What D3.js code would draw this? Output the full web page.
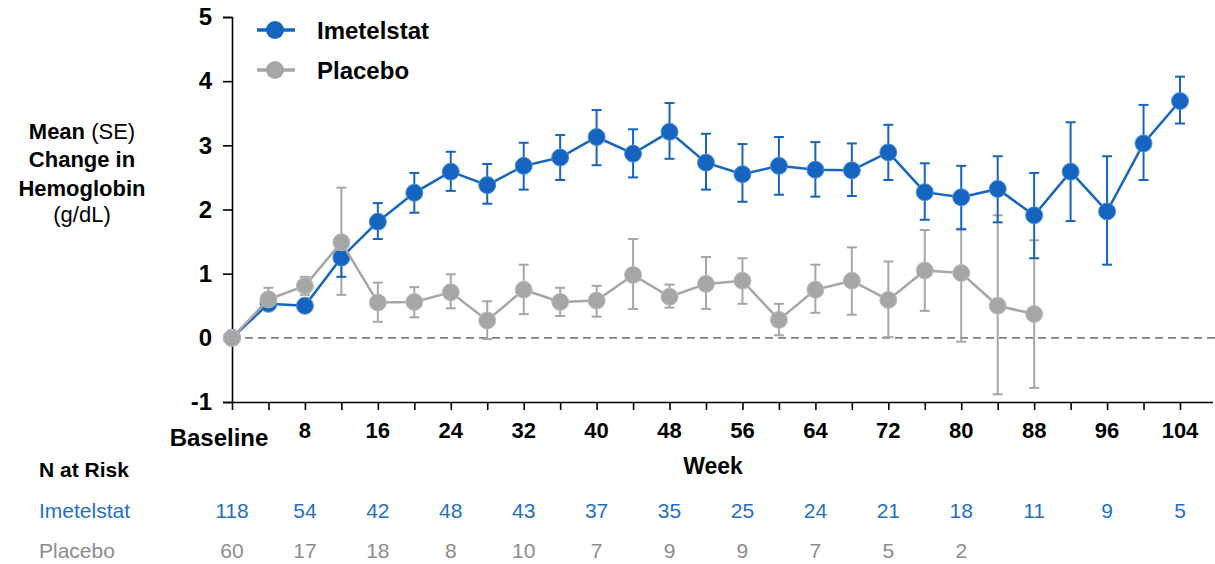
<!DOCTYPE html>
<html>
<head>
<meta charset="utf-8">
<script src="https://cdn.jsdelivr.net/npm/d3@7"></script>
<style>
  body { margin: 0; background: #fff; }
  svg { display: block; font-family: "Liberation Sans", Arial, sans-serif; }
</style>
</head>
<body>
<div id="chart"></div>
<script>
// weeks sampled every 4 weeks
const WEEKS_IME = [0, 4, 8, 12, 16, 20, 24, 28, 32, 36, 40, 44, 48, 52, 56, 60, 64, 68, 72, 76, 80, 84, 88, 92, 96, 100, 104];
const IME_MEAN = [0, 0.53, 0.50, 1.25, 1.81, 2.26, 2.59, 2.38, 2.68, 2.81, 3.13, 2.87, 3.21, 2.73, 2.55, 2.68, 2.62, 2.61, 2.89, 2.27, 2.19, 2.32, 1.91, 2.59, 1.97, 3.03, 3.69];
const IME_HI   = [0, 0.62, 0.58, 1.55, 2.10, 2.57, 2.90, 2.71, 3.04, 3.16, 3.55, 3.25, 3.66, 3.18, 3.02, 3.13, 3.05, 3.03, 3.32, 2.72, 2.68, 2.83, 2.57, 3.36, 2.83, 3.63, 4.07];
const IME_LO   = [0, 0.45, 0.42, 0.95, 1.54, 1.95, 2.29, 2.09, 2.31, 2.46, 2.69, 2.50, 2.79, 2.31, 2.12, 2.23, 2.20, 2.21, 2.46, 1.84, 1.69, 1.80, 1.24, 1.82, 1.14, 2.46, 3.34];

const WEEKS_PBO = [0, 4, 8, 12, 16, 20, 24, 28, 32, 36, 40, 44, 48, 52, 56, 60, 64, 68, 72, 76, 80, 84, 88];
const PBO_MEAN = [0, 0.60, 0.81, 1.49, 0.55, 0.56, 0.71, 0.27, 0.75, 0.56, 0.58, 0.98, 0.64, 0.84, 0.89, 0.28, 0.75, 0.89, 0.59, 1.05, 1.01, 0.50, 0.37];
const PBO_HI   = [0, 0.78, 0.95, 2.34, 0.86, 0.79, 0.99, 0.57, 1.14, 0.78, 0.81, 1.54, 0.83, 1.26, 1.24, 0.53, 1.14, 1.41, 1.19, 1.68, 1.70, 1.91, 1.52];
const PBO_LO   = [0, 0.45, 0.67, 0.67, 0.25, 0.32, 0.46, -0.02, 0.37, 0.34, 0.33, 0.45, 0.47, 0.45, 0.53, 0.04, 0.39, 0.36, 0.01, 0.42, -0.06, -0.88, -0.78];

const X_TICKS = [0, 8, 16, 24, 32, 40, 48, 56, 64, 72, 80, 88, 96, 104];
const Y_TICKS = [-1, 0, 1, 2, 3, 4, 5];
const RISK_IME = [118, 54, 42, 48, 43, 37, 35, 25, 24, 21, 18, 11, 9, 5];
const RISK_PBO = [60, 17, 18, 8, 10, 7, 9, 9, 7, 5, 2];

const BLUE = '#1565C0';
const GRAY = '#A6A6A6';
const TXT_BLUE = '#1F6FC5';
const TXT_GRAY = '#8C8C8C';

const W = 1215, H = 564;
const svg = d3.select('#chart').append('svg').attr('width', W).attr('height', H);

const x = d3.scaleLinear().domain([0, 104]).range([232, 1180]);
const y = d3.scaleLinear().domain([-1, 5]).range([402, 17]);

// zero reference line
svg.append('line')
  .attr('x1', x(0)).attr('x2', 1215).attr('y1', y(0)).attr('y2', y(0))
  .attr('stroke', '#808080').attr('stroke-width', 1.6).attr('stroke-dasharray', '8 5');

// axes
const yAxis = svg.append('g').attr('transform', `translate(${x(0)},0)`)
  .call(d3.axisLeft(y).tickValues(Y_TICKS).tickSize(9).tickPadding(11).tickFormat(d => String(d)));
yAxis.select('.domain').attr('stroke', '#000').attr('stroke-width', 1.6);
yAxis.selectAll('.tick line').attr('stroke', '#000').attr('stroke-width', 1.6);
yAxis.selectAll('text').style('font-size', '24px').style('font-weight', 'bold').style('fill', '#000')
  .style('font-family', '"Liberation Sans", Arial, sans-serif');

const xAxis = svg.append('g').attr('transform', `translate(0,${y(-1)})`)
  .call(d3.axisBottom(x).tickValues(d3.range(0, 105, 4)).tickSize(8).tickSizeOuter(0).tickFormat(''));
xAxis.select('.domain').attr('d', `M${x(0)},0.5H1213`).attr('stroke', '#000').attr('stroke-width', 1.6);
xAxis.selectAll('.tick line').attr('stroke', '#000').attr('stroke-width', 1.6);

// x tick labels
svg.append('g').selectAll('text').data(X_TICKS).enter().append('text')
  .attr('x', d => d === 0 ? 219 : x(d))
  .attr('y', d => d === 0 ? 446 : 438)
  .attr('text-anchor', 'middle')
  .style('font-size', d => d === 0 ? '24px' : '22px').style('font-weight', 'bold')
  .text(d => d === 0 ? 'Baseline' : d);

svg.append('text').attr('x', 713).attr('y', 474).attr('text-anchor', 'middle')
  .style('font-size', '23px').style('font-weight', 'bold').text('Week');

// y axis title
const yt = svg.append('text').attr('text-anchor', 'middle').style('font-size', '22px');
const t1 = yt.append('tspan').attr('x', 82).attr('y', 139);
t1.append('tspan').style('font-weight', 'bold').text('Mean ');
t1.append('tspan').text('(SE)');
yt.append('tspan').attr('x', 82).attr('y', 167).style('font-weight', 'bold').text('Change in');
yt.append('tspan').attr('x', 82).attr('y', 196).style('font-weight', 'bold').text('Hemoglobin');
yt.append('tspan').attr('x', 82).attr('y', 222).text('(g/dL)');

// series drawing
function errorBars(weeks, mean, hi, lo, color) {
  const pts = weeks.map((w, i) => ({ w, m: mean[i], hi: hi[i], lo: lo[i] }));
  const g = svg.append('g');
  pts.filter(p => p.w > 0).forEach(p => {
    g.append('line').attr('x1', x(p.w)).attr('x2', x(p.w)).attr('y1', y(p.hi)).attr('y2', y(p.lo))
      .attr('stroke', color).attr('stroke-width', 2);
    [p.hi, p.lo].forEach(v => {
      g.append('line').attr('x1', x(p.w) - 5).attr('x2', x(p.w) + 5).attr('y1', y(v)).attr('y2', y(v))
        .attr('stroke', color).attr('stroke-width', 2);
    });
  });
  return pts;
}
function seriesMarks(pts, color, stroke) {
  const g = svg.append('g');
  g.append('path').datum(pts)
    .attr('fill', 'none').attr('stroke', color).attr('stroke-width', 2.5)
    .attr('d', d3.line().x(d => x(d.w)).y(d => y(d.m)));
  g.selectAll('circle').data(pts).enter().append('circle')
    .attr('cx', d => x(d.w)).attr('cy', d => y(d.m)).attr('r', 8.5)
    .attr('fill', color).attr('stroke', stroke).attr('stroke-width', 1);
}

const pP = errorBars(WEEKS_PBO, PBO_MEAN, PBO_HI, PBO_LO, GRAY);
const pI = errorBars(WEEKS_IME, IME_MEAN, IME_HI, IME_LO, BLUE);
seriesMarks(pI, BLUE, '#4d8fd6');
seriesMarks(pP, GRAY, '#bdbdbd');

// legend
const LEG = [{ label: 'Imetelstat', color: BLUE, y: 30 }, { label: 'Placebo', color: GRAY, y: 70 }];
const lg = svg.append('g');
LEG.forEach(l => {
  lg.append('line').attr('x1', 257).attr('x2', 295).attr('y1', l.y).attr('y2', l.y)
    .attr('stroke', l.color).attr('stroke-width', 3.5);
  lg.append('circle').attr('cx', 275).attr('cy', l.y).attr('r', 9).attr('fill', l.color);
  lg.append('text').attr('x', 317).attr('y', l.y + 9)
    .style('font-size', '24px').style('font-weight', 'bold').text(l.label);
});

// N at risk table
svg.append('text').attr('x', 39).attr('y', 477)
  .style('font-size', '21px').style('font-weight', 'bold').text('N at Risk');
svg.append('text').attr('x', 39).attr('y', 518)
  .style('font-size', '21px').style('fill', TXT_BLUE).text('Imetelstat');
svg.append('text').attr('x', 39).attr('y', 558)
  .style('font-size', '21px').style('fill', TXT_GRAY).text('Placebo');

svg.append('g').selectAll('text').data(RISK_IME).enter().append('text')
  .attr('x', (d, i) => x(X_TICKS[i])).attr('y', 518)
  .attr('text-anchor', 'middle').style('font-size', '21px').style('fill', TXT_BLUE).text(d => d);
svg.append('g').selectAll('text').data(RISK_PBO).enter().append('text')
  .attr('x', (d, i) => x(X_TICKS[i])).attr('y', 558)
  .attr('text-anchor', 'middle').style('font-size', '21px').style('fill', TXT_GRAY).text(d => d);
</script>
</body>
</html>
